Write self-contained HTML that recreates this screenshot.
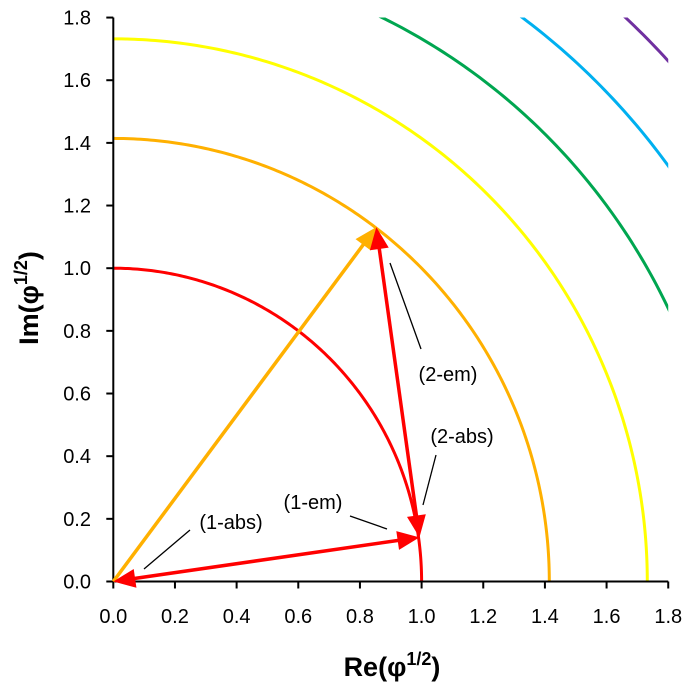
<!DOCTYPE html>
<html><head><meta charset="utf-8"><style>
html,body{margin:0;padding:0;background:#fff;}
svg{display:block;font-family:"Liberation Sans",sans-serif;}
</style></head><body>
<svg id="chart" width="685" height="687" viewBox="0 0 685 687">
<defs></defs>
<g id="plot"></g>
</svg>
<script>
const radii = [1, Math.SQRT2, Math.sqrt(3), 2, Math.sqrt(5), Math.sqrt(6)];
const circleColors = ["#ff0000","#ffb000","#ffff00","#00a650","#00b0f0","#7030a0"];
const circleNames = ["circle-r1","circle-r-sqrt2","circle-r-sqrt3","circle-r2","circle-r-sqrt5","circle-r-sqrt6"];
const xTicks = [0,0.2,0.4,0.6,0.8,1.0,1.2,1.4,1.6,1.8];
const yTicks = [0,0.2,0.4,0.6,0.8,1.0,1.2,1.4,1.6,1.8];
const ptOrigin = [0,0];
const ptTop = [0.853,1.131];
const ptLow = [0.993,0.141];

const X0=113.3, Y0=581.5, SX=308.3, SY=313.3;
const sx = v => X0 + v*SX;
const sy = v => Y0 - v*SY;
const NS="http://www.w3.org/2000/svg";
const g=document.getElementById('plot');
function mk(tag, attrs, parent){const e=document.createElementNS(NS,tag);for(const k in attrs)e.setAttribute(k,attrs[k]);(parent||g).appendChild(e);return e;}

const defs=document.querySelector('defs');
const cp=mk('clipPath',{id:'clip'},defs);
mk('rect',{x:sx(0),y:sy(1.8),width:sx(1.8)-sx(0),height:sy(0)-sy(1.8)},cp);

radii.forEach((r,i)=>{
  let d='';
  for(let k=0;k<=200;k++){const t=k/200*Math.PI/2;d+=(k?'L':'M')+sx(r*Math.cos(t)).toFixed(2)+','+sy(r*Math.sin(t)).toFixed(2);}
  const p=mk('path',{d:d,fill:'none',stroke:circleColors[i],'stroke-width':3,'clip-path':'url(#clip)'});
  
  
});

const ax=mk('g',{});


mk('line',{x1:sx(0),y1:sy(0),x2:sx(1.8),y2:sy(0),stroke:'#000','stroke-width':2},ax);
mk('line',{x1:sx(0),y1:sy(0),x2:sx(0),y2:sy(1.8),stroke:'#000','stroke-width':2},ax);
xTicks.forEach(v=>{
  mk('line',{x1:sx(v),y1:sy(0),x2:sx(v),y2:sy(0)+7,stroke:'#000','stroke-width':2},ax);
  const t=mk('text',{x:sx(v),y:623,'text-anchor':'middle','font-size':20,fill:'#000'},ax);
  t.textContent=v.toFixed(1);
  
  
});
yTicks.forEach(v=>{
  mk('line',{x1:sx(0)-7,y1:sy(v),x2:sx(0),y2:sy(v),stroke:'#000','stroke-width':2},ax);
  const t=mk('text',{x:91,y:sy(v)+7,'text-anchor':'end','font-size':20,fill:'#000'},ax);
  t.textContent=v.toFixed(1);
  
  
});

function head(tip, from, color){
  const dx=tip[0]-from[0], dy=tip[1]-from[1], L=Math.hypot(dx,dy), ux=dx/L, uy=dy/L;
  const len=22, w=9.5;
  const bx=tip[0]-ux*len, by=tip[1]-uy*len;
  const h=mk('polygon',{points:`${tip[0]},${tip[1]} ${bx-uy*w},${by+ux*w} ${bx+uy*w},${by-ux*w}`,fill:color});
  
  
}
function arrow(a,b,color,both,name){
  const A=[sx(a[0]),sy(a[1])], B=[sx(b[0]),sy(b[1])];
  const dx=B[0]-A[0], dy=B[1]-A[1], L=Math.hypot(dx,dy), ux=dx/L, uy=dy/L;
  const s=both?[A[0]+ux*15,A[1]+uy*15]:A, e=[B[0]-ux*15,B[1]-uy*15];
  const l=mk('line',{x1:s[0],y1:s[1],x2:e[0],y2:e[1],stroke:color,'stroke-width':3.5});
  
  
  head(B,A,color);
  if(both) head(A,B,color);
}
arrow(ptOrigin,ptTop,'#ffb000',false,'orange-arrow');
arrow(ptOrigin,ptLow,'#ff0000',true,'arrow-1');
arrow(ptLow,ptTop,'#ff0000',true,'arrow-2');

const ann=[
  ['(2-em)',448,381,390,263,421,349],
  ['(2-abs)',462,443,436,455,423,505],
  ['(1-em)',313,509,350,516,387,529],
  ['(1-abs)',231,529,190,530,144,569]
];
ann.forEach(a=>{
  const t=mk('text',{x:a[1],y:a[2],'text-anchor':'middle','font-size':20,fill:'#000'});
  t.textContent=a[0];
  
  
  mk('line',{x1:a[3],y1:a[4],x2:a[5],y2:a[6],stroke:'#000','stroke-width':1.3});
});

const xt=mk('text',{x:392,y:676,'text-anchor':'middle','font-size':27,'font-weight':'bold',fill:'#000'});
xt.innerHTML='Re(φ<tspan dy="-11" font-size="18">1/2</tspan><tspan dy="11">)</tspan>';


const yt=mk('text',{x:0,y:0,'text-anchor':'middle','font-size':27,'font-weight':'bold',fill:'#000',transform:'translate(38,298) rotate(-90)'});
yt.innerHTML='Im(φ<tspan dy="-11" font-size="18">1/2</tspan><tspan dy="11">)</tspan>';


</script>
</body></html>
